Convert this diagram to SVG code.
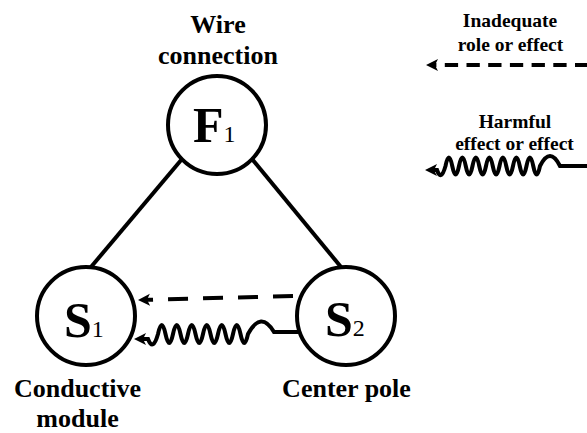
<svg xmlns="http://www.w3.org/2000/svg" width="587" height="433" viewBox="0 0 587 433">
  <style>
    .node { fill: #fff; stroke: #000; stroke-width: 4; }
    .link { fill: none; stroke: #000; stroke-width: 4; }
    .dash { stroke-dasharray: 20 15; }
    .legend-dash { stroke-dasharray: 13.3 8.4; stroke-dashoffset: 1.3; }
    text { font-family: "Liberation Serif", "DejaVu Serif", serif; font-weight: bold; fill: #000; }
    .label { font-size: 26px; text-anchor: middle; }
    .legend { font-size: 19.5px; text-anchor: middle; }
    .sym { font-size: 50px; }
    .sub { font-weight: normal; font-size: 24px; }
  </style>
  <defs>
    <marker id="arrow" markerUnits="userSpaceOnUse" markerWidth="14" markerHeight="14" viewBox="0 -7 14 14" refX="3" refY="0" orient="auto">
      <path d="M12 0 L0 -6 L3 0 L0 6 Z" fill="#000"/>
    </marker>
  </defs>

  <!-- connectors -->
  <g id="connectors">
    <line class="link" x1="182" y1="159" x2="91" y2="267"/>
    <line class="link" x1="252" y1="159" x2="341" y2="267"/>
    <!-- inadequate effect: S2 to S1 -->
    <path class="link dash" d="M293 296 L147 299.8" marker-end="url(#arrow)"/>
    <!-- harmful effect: S2 to S1 -->
    <path class="link" marker-end="url(#arrow)" d="M300 332 H274 Q261 310 248 334 Q244.25 352 240.5 334 T233 334 T225.5 334 T218 334 T210.5 334 T203 334 T195.5 334 T188 334 T180.5 334 T173 334 T165.5 334 T158 334 Q153 352 148 339 L143 339"/>
  </g>

  <!-- nodes -->
  <g id="node-F1">
    <circle class="node" cx="217" cy="125" r="49"/>
    <text class="sym" x="193" y="142">F<tspan class="sub">1</tspan></text>
    <text class="label" x="218" y="33">Wire</text>
    <text class="label" x="218" y="64">connection</text>
  </g>
  <g id="node-S1">
    <circle class="node" cx="86" cy="316" r="49"/>
    <text class="sym" x="64" y="337">S<tspan class="sub">1</tspan></text>
    <text class="label" x="77.5" y="397">Conductive</text>
    <text class="label" x="77.5" y="427">module</text>
  </g>
  <g id="node-S2">
    <circle class="node" cx="346" cy="316" r="49"/>
    <text class="sym" x="325" y="336">S<tspan class="sub">2</tspan></text>
    <text class="label" x="346.5" y="397">Center pole</text>
  </g>

  <!-- legend -->
  <g id="legend">
    <text class="legend" x="510" y="27">Inadequate</text>
    <text class="legend" x="510.5" y="51">role or effect</text>
    <path class="link legend-dash" d="M587 65 H435" marker-end="url(#arrow)"/>
    <text class="legend" x="515" y="128">Harmful</text>
    <text class="legend" x="514.5" y="150">effect or effect</text>
    <path class="link" marker-end="url(#arrow)" d="M587 166 H560 Q550 146 540 166 Q536.625 183 533.25 166 T526.5 166 T519.75 166 T513 166 T506.25 166 T499.5 166 T492.75 166 T486 166 T479.25 166 T472.5 166 T465.75 166 T459 166 T452.25 166 T445.5 166 Q441 182 437 170 L434 170"/>
  </g>
</svg>
